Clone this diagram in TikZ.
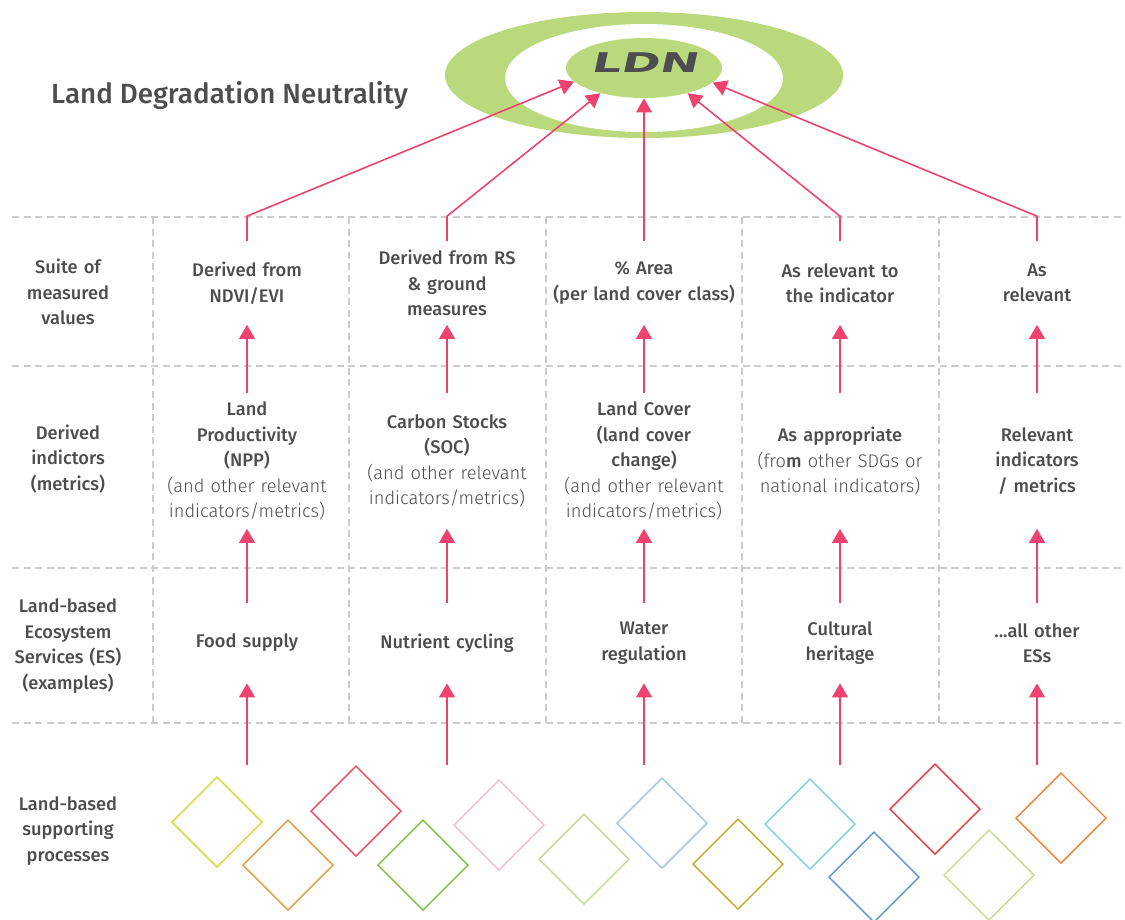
\documentclass[tikz,border=0pt]{standalone}
\usepackage{fontspec}
\setmainfont{Fira Sans Medium}
\newfontfamily\lightfont{Fira Sans Light}
\newfontfamily\ldnfont[FakeSlant=0.22,FakeStretch=1.7]{DejaVu Sans}
\usetikzlibrary{arrows.meta,positioning,shapes.geometric}

\definecolor{ink}{HTML}{4D4D4F}
\definecolor{arrowpink}{HTML}{EF426F}
\definecolor{ldngreen}{HTML}{BAD97C}
\definecolor{gridgray}{HTML}{CCCCCC}
% process diamonds
\definecolor{pa}{HTML}{D2DB34}
\definecolor{pb}{HTML}{DE9B3C}
\definecolor{pc}{HTML}{EC4B5B}
\definecolor{pd}{HTML}{82BE45}
\definecolor{pe}{HTML}{F7BCCA}
\definecolor{pf}{HTML}{C3DB8E}
\definecolor{pg}{HTML}{9DC3EA}
\definecolor{ph}{HTML}{C9A72C}
\definecolor{pi}{HTML}{7CCDE6}
\definecolor{pj}{HTML}{5B96D3}
\definecolor{pk}{HTML}{E53A3F}
\definecolor{pl}{HTML}{C4DD8E}
\definecolor{pm}{HTML}{EF7F30}

\begin{document}
\begin{tikzpicture}[x=0.2mm, y=0.2mm, font=\fontsize{10.4}{14.5}\selectfont, text=ink,
  grid/.style={gridgray, line width=0.7pt, dash pattern=on 4pt off 2.6pt},
  up/.style={arrowpink, line width=1.1pt, -{Triangle[length=8pt,width=9pt]}},
  lead/.style={arrowpink, line width=0.9pt, -{Triangle[length=8pt,width=9pt]}},
  rowhead/.style={align=center, text width=26mm, inner sep=0pt},
  val/.style={align=center, text width=38mm, minimum height=16.6mm, inner sep=0pt},
  met/.style={align=center, text width=38mm, minimum height=27mm, inner sep=0pt},
  es/.style={align=center, text width=38mm, minimum height=16mm, inner sep=0pt},
  ldn/.style={ellipse, fill=ldngreen, minimum width=31.2mm, minimum height=12mm,
    inner sep=0pt, text depth=5.7pt, font=\ldnfont\bfseries\fontsize{15.5}{16}\selectfont},
  proc/.style={line width=0.8pt, line join=miter}]
  \useasboundingbox (0,0) rectangle (1125,-920);

  % target rings
  \fill[ldngreen] (644,-75) ellipse [x radius=199, y radius=63];
  \fill[white] (644,-78) ellipse [x radius=139, y radius=54];
  \node[ldn] (ldn) at (644,-68) {LDN};
  \node[anchor=base west, font=\fontsize{15.8}{19}\selectfont] (title) at (45,-103)
    {Land Degradation Neutrality};

  % dashed table
  \foreach \y in {217,366,568,723} \draw[grid] (12,-\y) -- (1125,-\y);
  \foreach \x in {153,349,546,742,939} \draw[grid] (\x,-217) -- (\x,-723);

  % row heads
  \node[rowhead] (hval) at (68,-292) {Suite of\\measured\\values};
  \node[rowhead] (hmet) at (68,-459) {Derived\\indictors\\(metrics)};
  \node[rowhead] (hes)  at (68,-646) {Land-based\\Ecosystem\\Services (ES)\\(examples)};
  \node[rowhead] (hsp)  at (68,-831) {Land-based\\supporting\\processes};

  % measured values
  \node[val] (val1) at (247,-283) {Derived from\\NDVI/EVI};
  \node[val] (val2) at (447,-283) {Derived from RS\\\& ground\\measures};
  \node[val] (val3) at (644,-283) {\% Area\\(per land cover class)};
  \node[val] (val4) at (840,-283) {As relevant to\\the indicator};
  \node[val] (val5) at (1037,-283) {As\\relevant};

  % indicators
  \node[met] (met1) at (247,-461) {Land\\Productivity\\(NPP)\\\lightfont(and other relevant\\indicators/metrics)};
  \node[met] (met2) at (447,-461) {Carbon Stocks\\(SOC)\\\lightfont(and other relevant\\indicators/metrics)};
  \node[met] (met3) at (644,-461) {Land Cover\\(land cover\\change)\\\lightfont(and other relevant\\indicators/metrics)};
  \node[met] (met4) at (840,-461) {As appropriate\\\lightfont(fro{\normalfont m} other SDGs or\\national indicators)};
  \node[met] (met5) at (1037,-461) {Relevant\\indicators\\/ metrics};

  % ecosystem services
  \node[es] (es1) at (247,-643) {Food supply};
  \node[es] (es2) at (447,-643) {Nutrient cycling};
  \node[es] (es3) at (644,-643) {Water\\regulation};
  \node[es] (es4) at (840,-643) {Cultural\\heritage};
  \node[es] (es5) at (1037,-643) {...all other\\ESs};

  % feet of the process arrows
  \foreach \c/\x in {1/247,2/447,3/644,4/840,5/1037}
    \coordinate (sp\c) at (\x,-765);

  \foreach \c in {1,...,5} {
    \draw[up] (sp\c) -- (es\c.south);
    \draw[up] (es\c.north) -- (met\c.south);
    \draw[up] (met\c.north) -- (val\c.south);
  }

  % leads into LDN
  \draw[lead] (val1.north) -- ++(0,25) -- (ldn.191);
  \draw[lead] (val2.north) -- ++(0,25) -- (ldn.210);
  \draw[lead] (val3.north) -- (ldn.south);
  \draw[lead] (val4.north) -- ++(0,25) -- (ldn.330);
  \draw[lead] (val5.north) -- ++(0,25) -- (ldn.348);

  % supporting processes
  \foreach \x/\y/\col in {217/822/pa,288/865/pb,356/811/pc,423/865/pd,499/825/pe,
      584/859/pf,662/823/pg,738/864/ph,810/824/pi,874/877/pj,935/809/pk,989/875/pl,1061/818/pm}
    \draw[proc,\col] (\x,-\y) +(0,45) -- +(45,0) -- +(0,-45) -- +(-45,0) -- cycle;
\end{tikzpicture}
\end{document}
